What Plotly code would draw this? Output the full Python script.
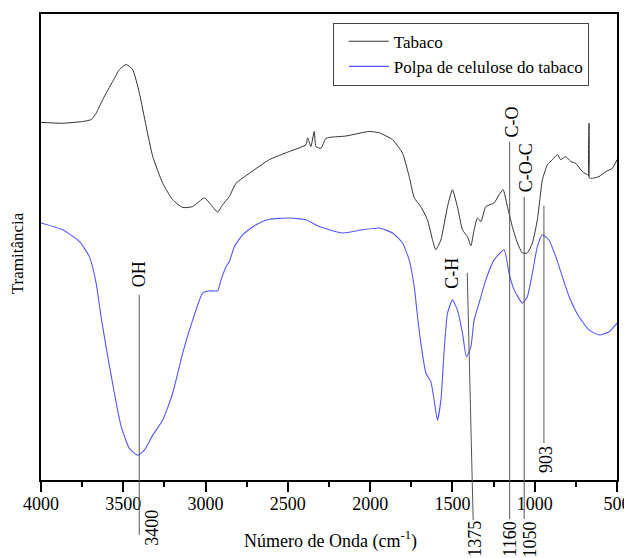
import plotly.graph_objects as go

# ---- data (arbitrary transmittance units) ----
tabaco_x = [4000, 3868, 3746, 3695, 3665, 3625, 3564, 3523, 3483, 3443, 3402, 3361, 3321, 3260,
            3200, 3139, 3078, 3007, 2967, 2927, 2896, 2856, 2815, 2734, 2613, 2491, 2390, 2380,
            2360, 2340, 2329, 2299, 2268, 2147, 2006, 1945, 1864, 1803, 1763, 1732, 1692, 1652,
            1621, 1601, 1570, 1530, 1500, 1470, 1439, 1409, 1388, 1368, 1348, 1327, 1297, 1247,
            1216, 1192, 1166, 1136, 1105, 1075, 1045, 1014, 984, 953, 923, 893, 862, 842, 812,
            781, 751, 711, 680, 672, 670, 668, 650, 609, 568, 528, 500]
tabaco_y = [76.8, 76.6, 77.0, 77.4, 78.8, 81.8, 85.8, 88.4, 89.5, 88.4, 83.2, 75.9, 69.3, 63.4,
            59.8, 58.1, 58.3, 60.2, 58.7, 57.1, 58.7, 60.5, 63.4, 65.6, 68.6, 70.4, 71.9, 73.4,
            71.5, 74.8, 71.5, 71.1, 73.3, 73.8, 74.8, 74.5, 73.0, 70.0, 64.9, 60.2, 58.3, 55.4,
            51.0, 48.8, 51.0, 58.3, 62.0, 58.3, 53.2, 51.7, 49.7, 53.2, 55.8, 55.0, 58.3, 59.1,
            60.9, 62.0, 58.3, 53.9, 50.3, 48.1, 48.1, 50.3, 55.4, 64.2, 67.5, 68.6, 69.7, 68.6,
            69.3, 68.2, 67.8, 66.0, 65.3, 65.1, 76.6, 64.6, 64.5, 64.9, 66.0, 66.7, 68.6]

polpa_x = [4000, 3868, 3766, 3706, 3665, 3635, 3594, 3554, 3513, 3463, 3412, 3372, 3321, 3260,
           3200, 3139, 3078, 3018, 2977, 2927, 2906, 2876, 2856, 2825, 2775, 2693, 2613, 2491,
           2390, 2309, 2168, 2046, 1945, 1864, 1803, 1763, 1732, 1712, 1692, 1661, 1631, 1611,
           1591, 1570, 1550, 1530, 1500, 1470, 1439, 1415, 1388, 1368, 1338, 1297, 1247, 1186,
           1156, 1125, 1075, 1045, 1014, 984, 953, 913, 872, 832, 791, 731, 670, 609, 548, 500]
polpa_y = [54.7, 53.2, 50.6, 47.3, 41.5, 34.1, 25.3, 17.3, 10.0, 5.2, 3.7, 4.8, 8.1, 11.4,
           17.3, 26.1, 33.4, 39.3, 39.8, 39.8, 42.2, 45.1, 46.2, 49.5, 52.1, 54.3, 55.5, 55.8,
           55.4, 53.9, 52.5, 53.2, 53.6, 52.5, 50.3, 46.6, 40.7, 34.1, 28.3, 21.7, 19.8, 15.8,
           11.4, 15.8, 26.8, 34.9, 37.8, 35.6, 30.5, 25.3, 27.5, 33.4, 37.1, 42.2, 46.6, 48.8,
           43.7, 40.0, 37.1, 38.5, 43.7, 49.5, 52.1, 50.9, 47.3, 42.9, 38.5, 34.1, 31.2, 30.1,
           30.8, 32.7]

x_ticks = [4000, 3500, 3000, 2500, 2000, 1500, 1000, 500]

# band marker lines: x at top, x at bottom, top (paper), bottom (paper)
band_x_top = [3403, 1410, 1152, 1064, 944]
band_x_bot = [3403, 1374, 1152, 1064, 944]
band_y_top = [0.397, 0.4445, 0.7258, 0.6077, 0.5884]
band_y_bot = [-0.118, -0.0859, -0.0837, -0.0837, 0.0795]
# group labels above the lines
band_labels = ["OH", "C-H", "C-O", "C-O-C"]
band_label_x = [3403, 1503, 1140, 1053]
band_label_y = [0.4423, 0.4445, 0.7687, 0.671]
# wavenumber labels
num_labels = ["3400", "1375", "1160", "1050", "903"]
num_label_x = [3327, 1363, 1150, 1029, 932]
num_label_y = [-0.103, -0.126, -0.128, -0.128, 0.045]

FONT = "Liberation Serif, Times New Roman, serif"

fig = go.Figure()
fig.add_trace(go.Scatter(x=tabaco_x, y=tabaco_y, mode="lines", name="Tabaco",
                         line=dict(color="#333333", width=1, shape="spline", smoothing=0.5)))
fig.add_trace(go.Scatter(x=polpa_x, y=polpa_y, mode="lines", name="Polpa de celulose do tabaco",
                         line=dict(color="rgb(85,85,255)", width=1.1, shape="spline",
                                   smoothing=0.5)))

shapes = []
for xt, xb, yt, yb in zip(band_x_top, band_x_bot, band_y_top, band_y_bot):
    shapes.append(dict(type="line", xref="x", yref="paper", x0=xt, x1=xb, y0=yt, y1=yb,
                       line=dict(color="#555555", width=1), layer="above"))

annotations = []
for lab, lx, ly in zip(band_labels, band_label_x, band_label_y):
    annotations.append(dict(text=lab, x=lx, y=ly, xref="x", yref="paper", showarrow=False,
                            textangle=-90, font=dict(family=FONT, size=18, color="black"),
                            xanchor="center", yanchor="middle"))
for lab, lx, ly in zip(num_labels, num_label_x, num_label_y):
    annotations.append(dict(text=lab, x=lx, y=ly, xref="x", yref="paper", showarrow=False,
                            textangle=-90, font=dict(family=FONT, size=18, color="black"),
                            xanchor="center", yanchor="middle"))
annotations.append(dict(text="Tramitância", x=-0.0405, y=0.486, xref="paper", yref="paper",
                        showarrow=False, textangle=-90, xanchor="center", yanchor="middle",
                        font=dict(family=FONT, size=17, color="black")))
annotations.append(dict(text="Número de Onda (cm<sup>-1</sup>)", x=0.503, y=-0.129,
                        xref="paper", yref="paper", showarrow=False,
                        font=dict(family=FONT, size=18, color="black"),
                        xanchor="center", yanchor="middle"))

# the page body adds an 8px offset; size the figure so the plot box lands in place
fig.update_layout(
    width=624, height=550,
    margin=dict(l=33.3, r=15, t=6.3, b=78, autoexpand=False),
    paper_bgcolor="white", plot_bgcolor="white",
    font=dict(family=FONT, size=18, color="black"),
    showlegend=True,
    legend=dict(x=0.5067, y=0.9813, xanchor="left", yanchor="top",
                bordercolor="#444444", borderwidth=1, bgcolor="white",
                indentation=10, itemwidth=40,
                font=dict(family=FONT, size=17), tracegroupgap=0),
    shapes=shapes,
    annotations=annotations,
)
fig.update_xaxes(range=[4000, 500], tickmode="array", tickvals=x_ticks,
                 ticktext=[str(v) for v in x_ticks], automargin=False,
                 ticks="outside", ticklen=10, tickwidth=1.5, tickcolor="black",
                 ticklabelstandoff=-3,
                 minor=dict(ticks="outside", ticklen=5, tickwidth=1.5, tickcolor="black",
                            dtick=250, tick0=0),
                 showline=True, linecolor="black", linewidth=1.5, mirror=True,
                 showgrid=False, zeroline=False,
                 tickfont=dict(family=FONT, size=18, color="black"))
fig.update_yaxes(range=[-1.76, 100.6], showticklabels=False, ticks="", automargin=False,
                 showline=True, linecolor="black", linewidth=1.5, mirror=True,
                 showgrid=False, zeroline=False)

fig.write_html("out.html")
